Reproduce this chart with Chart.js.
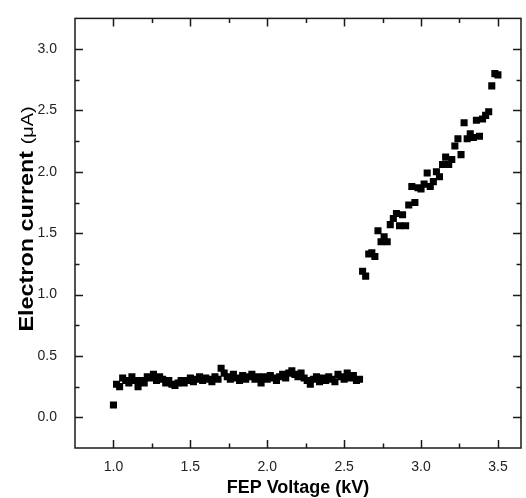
<!DOCTYPE html>
<html>
<head>
<meta charset="utf-8">
<script src="https://cdn.jsdelivr.net/npm/chart.js@4.4.1/dist/chart.umd.min.js"></script>
<style>
  html, body { margin: 0; padding: 0; background: #fff; }
  #wrap { width: 526px; height: 498px; position: relative; }
</style>
</head>
<body>
<div id="wrap"><canvas id="c" width="526" height="498"></canvas></div>
<script>
// ---- data ----
const lowX = [1.00,1.02,1.04,1.06,1.08,1.10,1.12,1.14,1.16,1.18,1.20,1.22,1.24,1.26,1.28,1.30,1.32,1.34,1.36,1.38,
  1.40,1.42,1.44,1.46,1.48,1.50,1.52,1.54,1.56,1.58,1.60,1.62,1.64,1.66,1.68,1.70,1.72,1.74,1.76,1.78,
  1.80,1.82,1.84,1.86,1.88,1.90,1.92,1.94,1.96,1.98,2.00,2.02,2.04,2.06,2.08,2.10,2.12,2.14,2.16,2.18,
  2.20,2.22,2.24,2.26,2.28,2.30,2.32,2.34,2.36,2.38,2.40,2.42,2.44,2.46,2.48,2.50,2.52,2.54,2.56,2.58,2.60];
const lowY = [0.10,0.27,0.25,0.32,0.30,0.28,0.33,0.30,0.25,0.30,0.28,0.33,0.32,0.35,0.30,0.33,0.31,0.28,0.30,0.27,
  0.26,0.28,0.30,0.28,0.30,0.32,0.29,0.31,0.33,0.30,0.32,0.31,0.29,0.33,0.31,0.40,0.36,0.33,0.31,0.35,
  0.32,0.30,0.34,0.31,0.33,0.35,0.31,0.33,0.28,0.33,0.31,0.34,0.32,0.30,0.33,0.35,0.32,0.36,0.38,0.35,
  0.33,0.36,0.32,0.30,0.27,0.31,0.33,0.29,0.32,0.30,0.33,0.31,0.29,0.35,0.33,0.31,0.36,0.32,0.34,0.30,0.31];
const highX = [2.62,2.64,2.66,2.68,2.70,2.72,2.74,2.76,2.78,2.80,2.82,2.84,2.86,2.88,2.90,2.92,2.94,2.96,2.98,3.00,
  3.02,3.04,3.06,3.08,3.10,3.12,3.14,3.16,3.18,3.20,3.22,3.24,3.26,3.28,3.30,3.32,3.34,3.36,3.38,3.40,
  3.42,3.44,3.46,3.48,3.50];
const highY = [1.19,1.15,1.33,1.34,1.31,1.52,1.43,1.47,1.43,1.57,1.62,1.66,1.56,1.65,1.56,1.73,1.88,1.75,1.87,1.86,
  1.90,1.99,1.88,1.92,2.00,1.96,2.06,2.12,2.06,2.10,2.21,2.27,2.14,2.40,2.27,2.31,2.28,2.42,2.29,2.43,
  2.46,2.49,2.70,2.80,2.79];

const xTicks = [1.0,1.5,2.0,2.5,3.0,3.5];
const xTickLabels = ['1.0','1.5','2.0','2.5','3.0','3.5'];
const xMinorTicks = [1.25,1.75,2.25,2.75,3.25];
const yTicks = [0.0,0.5,1.0,1.5,2.0,2.5,3.0];
const yTickLabels = ['0.0','0.5','1.0','1.5','2.0','2.5','3.0'];
const yMinorTicks = [0.25,0.75,1.25,1.75,2.25,2.75];
const xTitle = 'FEP Voltage (kV)';
const yTitleMain = 'Electron current ';
const yTitleUnit = '(\u03BCA)';

const FONT = '"Liberation Sans", Arial, sans-serif';

function toPts(xs, ys) { return xs.map((x, i) => ({ x: x, y: ys[i] })); }

const framePlugin = {
  id: 'frame',
  afterDatasetsDraw(chart) {
    const { ctx, chartArea: a, scales } = chart;
    const xs = scales.x, ys = scales.y;
    ctx.save();
    ctx.strokeStyle = '#1a1a1a';
    ctx.lineWidth = 1.5;
    ctx.strokeRect(a.left, a.top, a.right - a.left, a.bottom - a.top);
    const MAJ = 8, MIN = 4.5;
    ctx.beginPath();
    xTicks.forEach(v => {
      const p = Math.round(xs.getPixelForValue(v)) + 0.5;
      ctx.moveTo(p, a.bottom); ctx.lineTo(p, a.bottom - MAJ);
      ctx.moveTo(p, a.top); ctx.lineTo(p, a.top + MAJ);
    });
    xMinorTicks.forEach(v => {
      const p = Math.round(xs.getPixelForValue(v)) + 0.5;
      ctx.moveTo(p, a.bottom); ctx.lineTo(p, a.bottom - MIN);
      ctx.moveTo(p, a.top); ctx.lineTo(p, a.top + MIN);
    });
    yTicks.forEach(v => {
      const p = Math.round(ys.getPixelForValue(v)) + 0.5;
      ctx.moveTo(a.left, p); ctx.lineTo(a.left + MAJ, p);
      ctx.moveTo(a.right, p); ctx.lineTo(a.right - MAJ, p);
    });
    yMinorTicks.forEach(v => {
      const p = Math.round(ys.getPixelForValue(v)) + 0.5;
      ctx.moveTo(a.left, p); ctx.lineTo(a.left + MIN, p);
      ctx.moveTo(a.right, p); ctx.lineTo(a.right - MIN, p);
    });
    ctx.stroke();

    // y-axis title: bold main part + smaller regular unit
    ctx.fillStyle = '#000';
    ctx.textBaseline = 'alphabetic';
    ctx.textAlign = 'left';
    const f1 = 'bold 20px ' + FONT, f2 = '17px ' + FONT;
    const stretch = 1.17;
    ctx.font = f1; const w1 = ctx.measureText(yTitleMain).width;
    ctx.font = f2; const w2 = ctx.measureText(yTitleUnit).width;
    const W = (w1 + w2) * stretch;
    const cy = 219;
    ctx.translate(33, cy + W / 2);
    ctx.rotate(-Math.PI / 2);
    ctx.scale(stretch, 1);
    ctx.font = f1; ctx.fillText(yTitleMain, 0, 0);
    ctx.font = f2; ctx.fillText(yTitleUnit, w1, 0);
    ctx.restore();
  }
};

new Chart(document.getElementById('c'), {
  type: 'scatter',
  data: {
    datasets: [
      { data: toPts(lowX, lowY), backgroundColor: '#000', borderWidth: 0, pointStyle: 'rect', pointRadius: 5 },
      { data: toPts(highX, highY), backgroundColor: '#000', borderWidth: 0, pointStyle: 'rect', pointRadius: 5 }
    ]
  },
  options: {
    responsive: false,
    animation: false,
    devicePixelRatio: 1,
    layout: { padding: { top: 14, right: 3, left: 0, bottom: 0 } },
    plugins: { legend: { display: false }, tooltip: { enabled: false } },
    scales: {
      x: {
        type: 'linear', min: 0.75, max: 3.65,
        grid: { display: false }, border: { display: false },
        afterBuildTicks: s => { s.ticks = xTicks.map(v => ({ value: v })); },
        afterFit: s => { s.height = 50; },
        ticks: {
          padding: 3, color: '#222',
          font: { family: FONT, size: 14 },
          callback: (v, i) => xTickLabels[i]
        },
        title: {
          display: true, text: xTitle, color: '#000',
          font: { family: FONT, size: 18, weight: 'bold', lineHeight: 1.1 },
          padding: { top: 0, bottom: 0 }
        }
      },
      y: {
        type: 'linear', min: -0.25, max: 3.25,
        grid: { display: false }, border: { display: false },
        afterBuildTicks: s => { s.ticks = yTicks.map(v => ({ value: v })); },
        afterFit: s => { s.width = 75; },
        ticks: {
          padding: 10, color: '#222',
          font: { family: FONT, size: 14 },
          callback: (v, i) => yTickLabels[i]
        }
      }
    }
  },
  plugins: [framePlugin]
});
</script>
</body>
</html>
